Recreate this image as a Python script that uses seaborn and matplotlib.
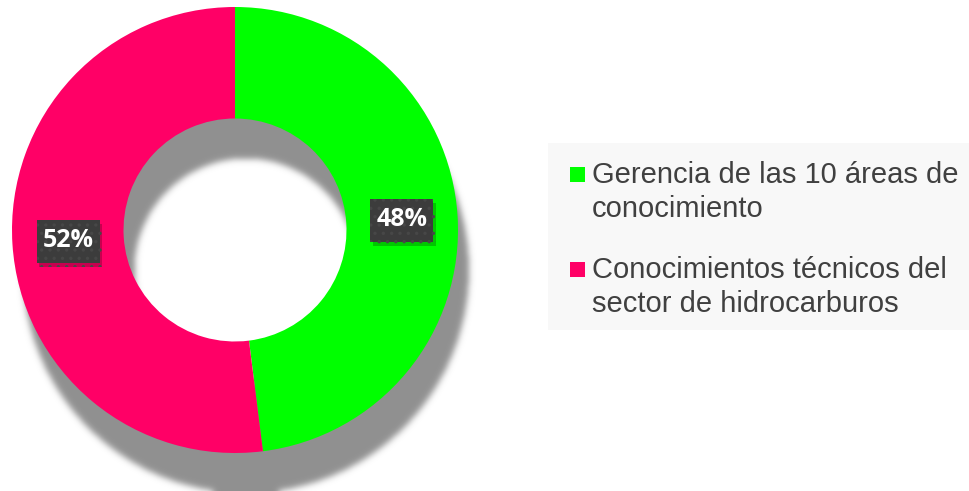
import numpy as np
import matplotlib
matplotlib.use("Agg")
import matplotlib.pyplot as plt
import matplotlib.patheffects as pe
from matplotlib.patches import Rectangle
from matplotlib.transforms import IdentityTransform
import seaborn as sns

# ---- data ----
categories = ["Gerencia de las 10 áreas de\nconocimiento",
              "Conocimientos técnicos del\nsector de hidrocarburos"]
values = [48, 52]
pct_labels = ["48%", "52%"]
colors = ["#00FF00", "#FF0066"]

sns.set_theme(style="white")
plt.rcParams['font.family'] = ['Liberation Sans', 'DejaVu Sans']
plt.rcParams['hatch.linewidth'] = 1.2

W, H = 969, 491
fig = plt.figure(figsize=(W / 100, H / 100), dpi=100)
fig.patch.set_facecolor("white")

# pie axes: centre at pixel (235, 230 from top), radius 223 px
R_PX = 223.0
CX, CY = 235.0, 230.0
AX_W = 500
ax = fig.add_axes([0, 0, AX_W / W, 1])
ax.axis("off")

# ---- blurred drop shadow ----
xs = (np.arange(AX_W) + 0.5 - CX) / R_PX
ys = (CY - (np.arange(H) + 0.5)) / R_PX
X, Y = np.meshgrid(xs, ys)
sx, sy, sr = 11 / R_PX, -40 / R_PX, 1.0
r = np.hypot(X - sx, Y - sy)
mask = ((r <= sr) & (r >= 0.5 * sr)).astype(float)
pad = 20
mask = np.pad(mask, pad, mode="edge")
sig = 3.2
kx = np.arange(-12, 13)
k = np.exp(-kx ** 2 / (2 * sig ** 2)); k /= k.sum()
mask = np.apply_along_axis(lambda v: np.convolve(v, k, mode="same"), 1, mask)
mask = np.apply_along_axis(lambda v: np.convolve(v, k, mode="same"), 0, mask)
mask = mask[pad:-pad, pad:-pad]
img = np.zeros((H, AX_W, 4))
img[..., :3] = 0.565
img[..., 3] = np.clip(mask, 0, 1)
ax.imshow(img, extent=(-CX / R_PX, (AX_W - CX) / R_PX,
                       -(H - CY) / R_PX, CY / R_PX),
          origin="upper", zorder=0, interpolation="nearest")

# ---- donut ----
wedges, _ = ax.pie(values, colors=colors, startangle=90, counterclock=False,
                   radius=1.0, wedgeprops=dict(width=0.5, linewidth=0),
                   frame=False)
for w in wedges:
    w.set_zorder(2)
ax.set_xlim(-CX / R_PX, (AX_W - CX) / R_PX)
ax.set_ylim(-(H - CY) / R_PX, CY / R_PX)
ax.set_aspect("auto")

fig.canvas.draw()
renderer = fig.canvas.get_renderer()
for w, lab in zip(wedges, pct_labels):
    ang = np.deg2rad((w.theta1 + w.theta2) / 2)
    x, y = 0.75 * np.cos(ang), 0.75 * np.sin(ang)
    t = ax.text(x, y, lab, ha="center", va="center", color="white",
                fontsize=18, fontweight="bold", family=["Open Sans", "DejaVu Sans"],
                zorder=6)
    px, py = ax.transData.transform((x, y))
    ext = t.get_window_extent(renderer)
    bw, bh = ext.width + 12, 43
    box = Rectangle((px - bw / 2, py - bh / 2 - 1), bw, bh,
                    transform=IdentityTransform(), facecolor="#3c3c3c",
                    edgecolor="#474747", hatch="..", linewidth=0, zorder=5)
    box.set_path_effects([
        pe.SimplePatchShadow(offset=(2, -3), shadow_rgbFace="black", alpha=0.22),
        pe.Normal()])
    ax.add_artist(box)

# ---- legend ----
fig.patches.append(Rectangle((548 / W, (H - 330) / H), 421 / W, 187 / H,
                             transform=fig.transFigure, facecolor="#f8f8f8",
                             edgecolor="none", zorder=0))
first_baselines = [183, 278]
line_gap = 34
for cat, col, b in zip(categories, colors, first_baselines):
    fig.patches.append(Rectangle((570 / W, (H - b + 1) / H), 15 / W, 15 / H,
                                 transform=fig.transFigure, facecolor=col,
                                 edgecolor="none", zorder=2))
    for i, line in enumerate(cat.split("\n")):
        fig.text(592 / W, (H - (b + i * line_gap)) / H, line, ha="left",
                 va="baseline", fontsize=21, color="#404040")

fig.savefig("out.png", dpi=100, facecolor="white")
